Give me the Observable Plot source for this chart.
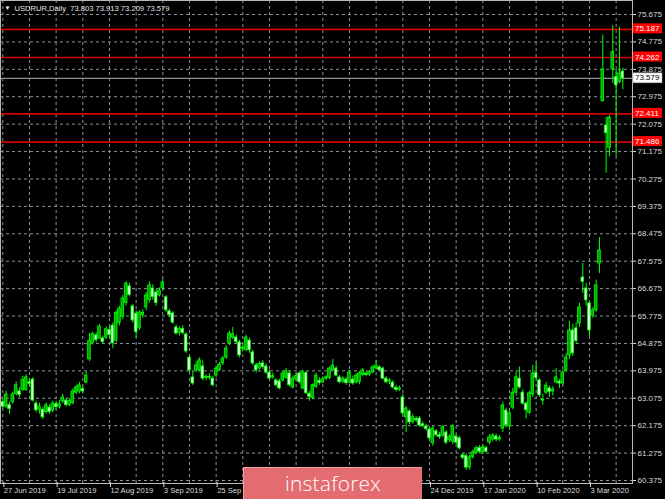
<!DOCTYPE html>
<html><head><meta charset="utf-8">
<script src="https://cdn.jsdelivr.net/npm/d3@7"></script>
<script src="https://cdn.jsdelivr.net/npm/@observablehq/plot@0.6"></script>
<style>
html,body{margin:0;padding:0;background:#000;}
#wrap{position:relative;width:665px;height:499px;overflow:hidden;background:#000;}
#wrap svg{display:block;}
#wm{position:absolute;left:243px;top:467px;width:179px;height:32px;background:#e46c70;color:#fff;
font-family:"Open Sans",Lato,sans-serif;font-weight:300;font-size:21px;line-height:31px;text-align:center;
border-top:1px solid #f3a2a4;border-left:1px solid #f3a2a4;box-sizing:border-box;letter-spacing:0.2px}
</style></head><body><div id="wrap"><div id="wm">instaforex</div></div>
<script>
const symbolTitle = "USDRUR,Daily  73.803 73.913 73.209 73.579";
const dateTicks = [0,16,32,48,64,80,96,112,128,144,160,176];
// labels at 80, 96, 112 (17 Oct, 8 Nov, 2 Dec) sit under the watermark in the reference
const dateLabels = ["27 Jun 2019","19 Jul 2019","12 Aug 2019","3 Sep 2019","25 Sep 2019","","","","24 Dec 2019","17 Jan 2020","10 Feb 2020","3 Mar 2020"];
const gridBars = [0,8,16,24,32,40,48,56,64,72,80,88,96,104,112,120,128,136,144,152,160,168,176,184];
const priceTicks = [60.375,61.275,62.175,63.075,63.975,64.875,65.775,66.675,67.575,68.475,69.375,70.275,71.175,72.075,72.975,73.875,74.775,75.675];
const levels = [75.187,74.262,72.411,71.486];
const lastPrice = 73.579;

const opens = [62.95,62.80,62.85,62.95,63.22,63.30,63.35,63.35,63.60,63.69,
62.90,62.70,62.70,62.62,62.77,62.67,62.88,62.80,62.97,63.00,
62.86,62.92,63.26,63.30,63.38,63.59,64.35,64.90,65.14,65.04,
65.04,65.07,65.32,65.46,64.97,65.55,65.75,66.20,66.75,66.09,
65.85,65.37,65.80,66.06,66.30,66.68,66.55,66.45,66.68,66.39,
65.93,65.86,65.40,65.22,65.35,65.17,64.41,63.76,63.99,64.00,
64.12,63.74,63.78,63.72,63.82,64.00,64.22,64.41,64.87,65.06,
65.07,64.91,64.70,64.66,64.97,64.58,64.15,64.05,64.22,64.12,
63.92,63.76,63.66,63.63,63.66,63.75,63.89,63.43,63.70,63.89,
63.40,63.90,63.22,63.08,63.45,63.65,63.60,63.72,63.74,64.00,
64.05,63.76,63.62,63.69,63.59,63.69,63.59,63.60,63.84,63.88,
63.85,63.92,64.06,64.09,64.05,63.72,63.62,63.59,63.42,63.35,
63.10,62.45,62.64,62.30,62.40,62.41,62.22,62.15,62.05,61.60,
61.99,61.86,61.85,61.95,61.70,61.65,61.82,61.76,61.20,61.18,
60.80,61.14,61.28,61.44,61.30,61.44,61.62,61.72,61.82,61.72,
62.08,62.67,62.15,62.77,63.26,63.72,63.26,62.90,62.60,63.20,
63.90,63.66,63.02,63.26,63.40,63.30,63.60,63.62,63.56,63.99,
64.48,65.30,65.37,65.53,67.04,66.68,66.19,65.79,65.96,67.50,
72.83,72.03,71.30,73.87,73.62,73.45,73.803];
const highs = [63.05,63.30,62.95,63.28,63.62,63.42,63.80,63.85,63.70,63.75,
62.98,62.92,62.78,62.92,62.85,62.98,62.98,63.00,63.20,63.08,
63.05,63.38,63.50,63.60,63.48,63.95,65.20,65.25,65.22,65.50,
65.12,65.42,65.40,65.55,65.95,66.10,66.45,66.90,66.85,66.15,
65.95,65.95,65.98,66.55,66.90,66.80,66.65,66.70,66.98,66.45,
66.00,65.92,65.48,65.42,65.45,65.22,64.48,63.95,64.28,64.40,
64.30,63.85,63.88,63.80,64.12,64.25,64.45,64.80,65.28,65.40,
65.15,64.98,64.82,65.15,65.05,64.65,64.22,64.28,64.32,64.20,
64.00,63.90,63.72,63.70,63.95,64.05,63.98,63.80,63.88,63.95,
64.00,63.95,63.30,63.55,63.90,63.75,63.78,63.82,64.10,64.35,
64.12,63.82,63.78,63.75,63.98,63.80,63.88,63.95,64.05,63.95,
63.98,64.15,64.32,64.15,64.10,63.78,63.72,63.65,63.50,63.48,
63.20,62.80,62.70,62.55,62.48,62.48,62.30,62.22,62.12,62.15,
62.05,61.95,62.18,62.02,61.88,62.22,61.88,61.82,61.28,61.25,
61.20,61.38,61.50,61.52,61.55,61.50,61.88,61.92,61.90,61.85,
62.95,62.75,62.65,63.40,63.95,64.10,63.35,62.95,63.30,64.15,
64.25,63.72,63.20,63.60,63.48,63.45,64.05,63.70,64.00,64.55,
65.60,65.50,65.55,66.20,67.50,66.85,66.25,66.05,66.95,68.35,
75.00,72.30,72.35,75.31,73.87,75.26,73.913];
const lows = [62.72,62.75,62.55,62.88,63.15,63.10,63.30,63.30,63.45,62.95,
62.60,62.55,62.38,62.55,62.55,62.60,62.70,62.72,62.90,62.78,
62.80,62.86,63.20,63.22,63.22,63.55,64.28,64.82,64.90,65.00,
64.85,65.00,65.05,64.70,64.90,65.45,65.65,66.10,66.40,65.55,
65.05,65.30,65.70,65.95,66.20,66.30,66.10,66.40,66.60,65.90,
65.72,65.50,65.15,65.12,65.15,64.55,63.92,63.50,63.92,63.95,
63.65,63.65,63.68,63.45,63.75,63.95,64.15,64.35,64.80,65.00,
64.85,64.40,64.60,64.60,64.55,64.15,63.90,64.00,64.02,63.85,
63.65,63.70,63.45,63.35,63.60,63.70,63.45,63.38,63.62,63.55,
63.35,63.20,62.98,63.02,63.40,63.50,63.55,63.66,63.68,63.95,
63.78,63.55,63.56,63.50,63.55,63.50,63.55,63.52,63.78,63.78,
63.80,63.88,64.00,63.95,63.68,63.55,63.52,63.38,63.28,63.30,
62.50,61.95,62.20,62.22,62.28,62.12,62.10,62.00,61.70,61.50,
61.80,61.72,61.80,61.55,61.62,61.55,61.55,61.38,61.05,60.70,
60.72,61.08,61.22,61.25,61.22,61.28,61.55,61.65,61.65,61.66,
61.95,62.10,62.02,62.70,63.15,63.38,62.85,62.40,62.55,63.10,
63.65,63.10,62.85,63.20,63.10,63.15,63.55,63.40,63.50,63.92,
64.35,64.45,64.85,65.40,66.52,66.10,65.10,65.70,65.90,67.17,
72.80,70.46,71.00,73.41,71.00,73.40,73.209];
const closes = [62.80,63.20,62.72,63.20,63.50,63.18,63.68,63.76,63.55,63.00,
62.68,62.80,62.45,62.84,62.62,62.90,62.78,62.88,63.10,62.85,
62.98,63.30,63.43,63.50,63.30,63.82,64.95,65.18,64.98,65.43,
64.92,65.34,65.15,64.88,65.88,66.02,66.35,66.84,66.47,65.63,
65.25,65.89,65.88,66.45,66.78,66.40,66.20,66.61,66.88,65.96,
65.80,65.56,65.20,65.35,65.22,64.61,63.99,63.56,64.15,64.32,
63.72,63.78,63.75,63.50,64.05,64.18,64.38,64.71,65.20,65.18,
64.92,64.48,64.74,65.07,64.65,64.22,63.99,64.20,64.10,63.92,
63.72,63.80,63.50,63.40,63.89,63.96,63.50,63.72,63.80,63.60,
63.92,63.24,63.12,63.50,63.82,63.58,63.70,63.76,64.05,64.15,
63.82,63.60,63.72,63.57,63.92,63.56,63.82,63.89,63.99,63.84,
63.92,64.09,64.15,64.00,63.72,63.60,63.66,63.43,63.35,63.40,
62.58,62.74,62.28,62.45,62.35,62.18,62.16,62.06,61.76,62.08,
61.86,61.80,62.12,61.62,61.80,62.15,61.62,61.43,61.12,60.80,
61.13,61.30,61.43,61.32,61.46,61.32,61.79,61.85,61.72,61.78,
62.84,62.20,62.58,63.26,63.76,63.43,62.90,62.68,63.24,63.89,
63.74,63.17,63.00,63.49,63.28,63.36,63.76,63.56,63.92,64.41,
65.30,64.55,64.95,66.06,66.90,66.29,65.30,65.96,66.78,67.93,
73.87,71.78,72.29,74.44,73.35,73.74,73.579];

const bars = opens.map((o, i) => ({i, o, h: highs[i], l: lows[i], c: closes[i]}));
const upBars = bars.filter(d => d.c >= d.o);
const downBars = bars.filter(d => d.c < d.o);
const lime = "#00ff00";
const gridColor = "#8a949e";

const chart = Plot.plot({
  width: 665, height: 499,
  marginTop: 0, marginRight: 33, marginBottom: 16, marginLeft: 0,
  style: {background: "#000", color: "#dcdcdc", fontFamily: "'Liberation Sans', Arial, sans-serif", fontSize: "8px"},
  x: {domain: [0, 186], range: [2.3, 622.3]},
  y: {domain: [60.375, 75.675], range: [480, 14]},
  marks: [
    Plot.gridY(priceTicks, {stroke: gridColor, strokeOpacity: 1, strokeDasharray: "3,3"}),
    Plot.gridX(gridBars, {stroke: gridColor, strokeOpacity: 1, strokeDasharray: "3,3"}),
    Plot.ruleY(levels, {stroke: "#d20000", strokeWidth: 1.6}),
    Plot.ruleY([lastPrice], {stroke: "#8e9296", strokeWidth: 1.2}),
    Plot.ruleX(bars, {x: "i", y1: "l", y2: "h", stroke: lime, strokeWidth: 1}),
    Plot.rect(upBars, {x1: d => d.i - 0.4, x2: d => d.i + 0.4, y1: "o", y2: "c", fill: "#00a400", stroke: lime, strokeWidth: 0.8}),
    Plot.rect(downBars, {x1: d => d.i - 0.4, x2: d => d.i + 0.4, y1: "o", y2: "c", fill: "#d8ffd8", stroke: lime, strokeWidth: 0.8}),
    Plot.frame({stroke: "#b8b8b8"}),
    Plot.axisY(priceTicks, {anchor: "right", tickSize: 3, tickPadding: 2, tickFormat: d => d.toFixed(3), color: "#dcdcdc", fontSize: 8, label: null}),
    Plot.axisX(dateTicks, {anchor: "bottom", tickSize: 5, tickPadding: 0, tickFormat: d => dateLabels[dateTicks.indexOf(d)], textAnchor: "start", dx: 1, dy: -1, color: "#dcdcdc", fontSize: 7.6, label: null}),
    Plot.text([symbolTitle], {frameAnchor: "top-left", dx: 14, dy: 8, textAnchor: "start", lineAnchor: "middle", fill: "#e6e6e6", fontSize: 7.6}),
    Plot.text(["\u25BC"], {frameAnchor: "top-left", dx: 7, dy: 8, textAnchor: "middle", lineAnchor: "middle", fill: "#ffffff", fontSize: 6})
  ]
});

document.getElementById("wrap").insertBefore(chart, document.getElementById("wm"));

// price tags on the right price scale
const ys = chart.scale("y");
const svg = d3.select(chart);
const tags = svg.append("g").attr("font-family", "'Liberation Sans', Arial, sans-serif").attr("font-size", 8).attr("text-anchor", "start");
for (const v of levels) {
  const y = ys.apply(v);
  tags.append("rect").attr("x", 633).attr("y", y - 5.5).attr("width", 29).attr("height", 10).attr("fill", "#ff0000");
  tags.append("text").attr("x", 635).attr("y", y).attr("dy", "0.32em").attr("text-anchor", "start").attr("fill", "#ffffff").text(v.toFixed(3));
}
{
  const y = ys.apply(lastPrice);
  tags.append("rect").attr("x", 633).attr("y", y - 5).attr("width", 29).attr("height", 10).attr("fill", "#ffffff").attr("stroke", "#9a9a9a").attr("stroke-width", 0.6);
  tags.append("text").attr("x", 635).attr("y", y).attr("dy", "0.32em").attr("text-anchor", "start").attr("fill", "#000000").text(lastPrice.toFixed(3));
}
</script></body></html>
